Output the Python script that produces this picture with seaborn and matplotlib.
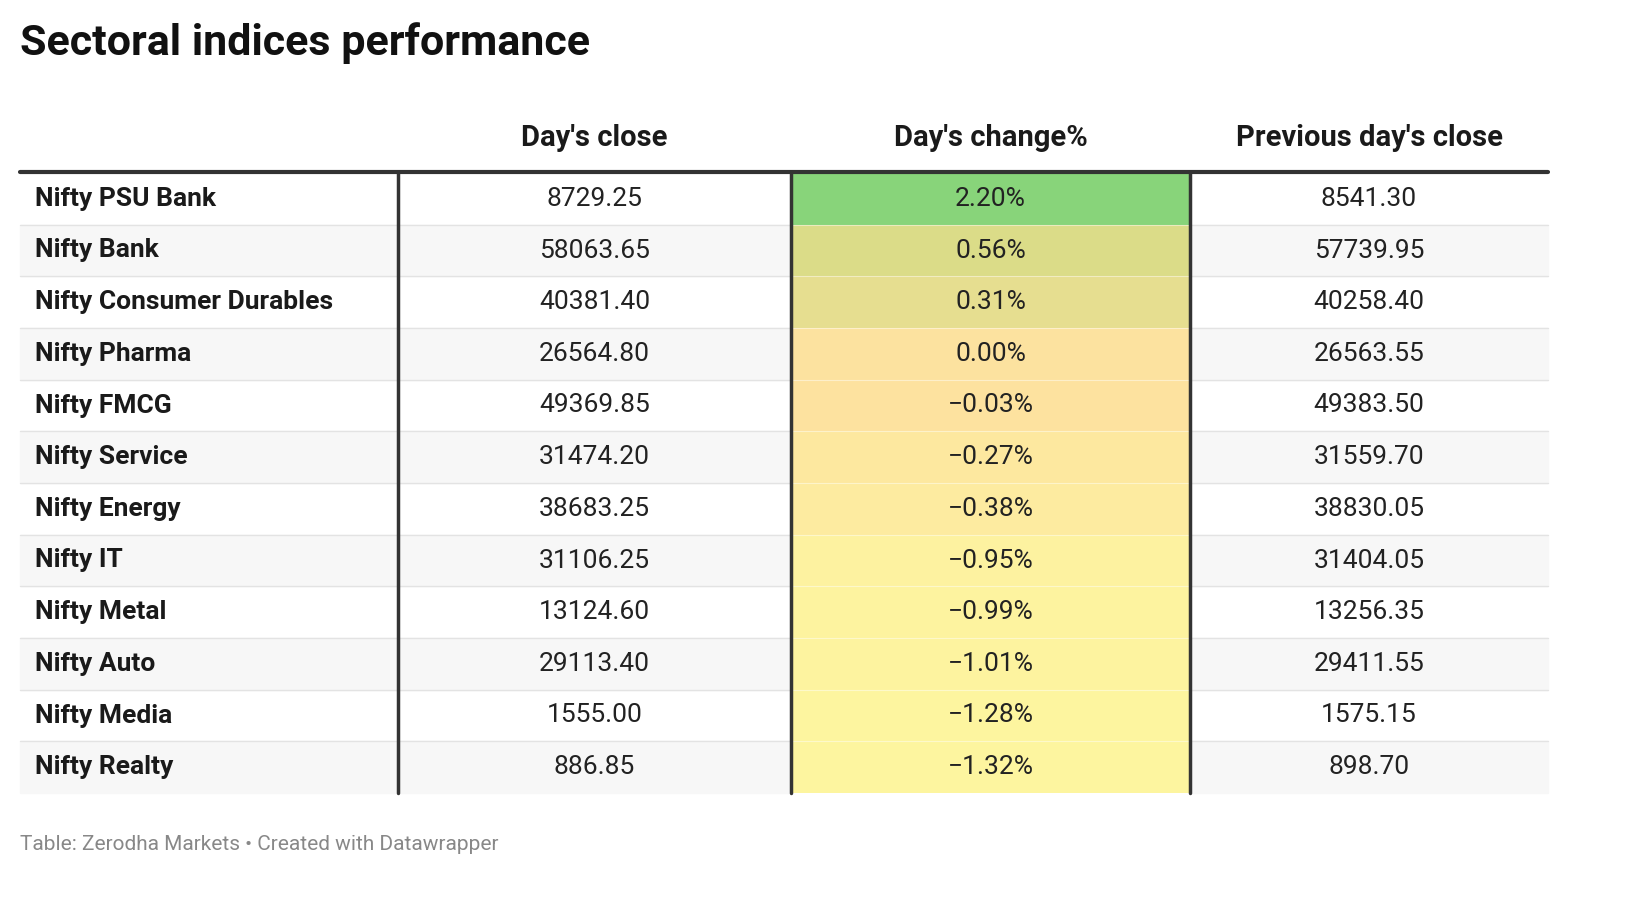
import matplotlib
matplotlib.use("Agg")
import matplotlib.pyplot as plt
import seaborn as sns
import numpy as np
from matplotlib.colors import LinearSegmentedColormap

indices = ["Nifty PSU Bank", "Nifty Bank", "Nifty Consumer Durables", "Nifty Pharma",
           "Nifty FMCG", "Nifty Service", "Nifty Energy", "Nifty IT", "Nifty Metal",
           "Nifty Auto", "Nifty Media", "Nifty Realty"]
days_close = ["8729.25", "58063.65", "40381.40", "26564.80", "49369.85", "31474.20",
              "38683.25", "31106.25", "13124.60", "29113.40", "1555.00", "886.85"]
change_pct = [2.20, 0.56, 0.31, 0.00, -0.03, -0.27, -0.38, -0.95, -0.99, -1.01, -1.28, -1.32]
prev_close = ["8541.30", "57739.95", "40258.40", "26563.55", "49383.50", "31559.70",
              "38830.05", "31404.05", "13256.35", "29411.55", "1575.15", "898.70"]
headers = ["Day's close", "Day's change%", "Previous day's close"]

sns.set_theme(style="white")
plt.rcParams['font.family'] = ['Roboto', 'DejaVu Sans']

W, H = 1636, 914
fig = plt.figure(figsize=(W / 100, H / 100), dpi=100)
ax = fig.add_axes([0, 0, 1, 1])
ax.set_xlim(0, W); ax.set_ylim(H, 0); ax.axis("off")

x0, x1, x2, x3, x4 = 20, 398, 791, 1190, 1548
top, bot = 173, 793
n = len(indices)
rh = (bot - top) / n

# row backgrounds and separators (outside the heatmap column)
for i in range(n):
    y = top + i * rh
    if i % 2 == 1:
        ax.add_patch(plt.Rectangle((x0, y), x2 - x0, rh, color="#f7f7f7", zorder=0))
        ax.add_patch(plt.Rectangle((x3, y), x4 - x3, rh, color="#f7f7f7", zorder=0))
    if i > 0:
        ax.plot([x0, x2], [y, y], color="#e3e3e3", lw=1, zorder=1)
        ax.plot([x3, x4], [y, y], color="#e3e3e3", lw=1, zorder=1)

# heatmap for change column
cmap = LinearSegmentedColormap.from_list("chg", [
    (0.0, "#fdf59f"), (0.20, "#fdf0a0"), (0.37, "#fde29f"),
    (0.45, "#e8de92"), (0.53, "#dcdc88"), (1.0, "#88d47a")])
hax = fig.add_axes([x2 / W, 1 - bot / H, (x3 - x2) / W, (bot - top) / H])
sns.heatmap(np.array(change_pct).reshape(-1, 1), ax=hax, cmap=cmap, vmin=-1.32, vmax=2.20,
            cbar=False, annot=False, linewidths=0, xticklabels=False, yticklabels=False)
hax.axis("off")
for i in range(1, n):
    hax.axhline(i, color="white", lw=0.8, alpha=0.45)

for i in range(n):
    yc = top + (i + 0.5) * rh
    ax.text(35, yc, indices[i], fontsize=19, fontweight="bold", va="center", ha="left", color="#1a1a1a")
    ax.text((x1 + x2) / 2, yc, days_close[i], fontsize=19, va="center", ha="center", color="#222")
    ax.text((x2 + x3) / 2, yc, f"{change_pct[i]:.2f}%".replace("-", "\u2212"), fontsize=19,
            va="center", ha="center", color="#222", zorder=5)
    ax.text((x3 + x4) / 2, yc, prev_close[i], fontsize=19, va="center", ha="center", color="#222")

for xv in (x1, x2, x3):
    ax.plot([xv, xv], [top, bot], color="#333333", lw=2.5, zorder=6)
ax.plot([x0, x4], [172, 172], color="#333333", lw=3, zorder=6)

for h, xc in zip(headers, [(x1 + x2) / 2, (x2 + x3) / 2, (x3 + x4) / 2]):
    ax.text(xc, 138, h, fontsize=21, fontweight="bold", ha="center", va="center", color="#1a1a1a")

ax.text(20, 43, "Sectoral indices performance", fontsize=31, fontweight="bold",
        ha="left", va="center", color="#111")
ax.text(20, 844, "Table: Zerodha Markets \u2022 Created with Datawrapper", fontsize=15,
        ha="left", va="center", color="#888888")

ax.set_zorder(2); ax.patch.set_visible(False)
hax.set_zorder(1)
fig.savefig("out.png", dpi=100)
